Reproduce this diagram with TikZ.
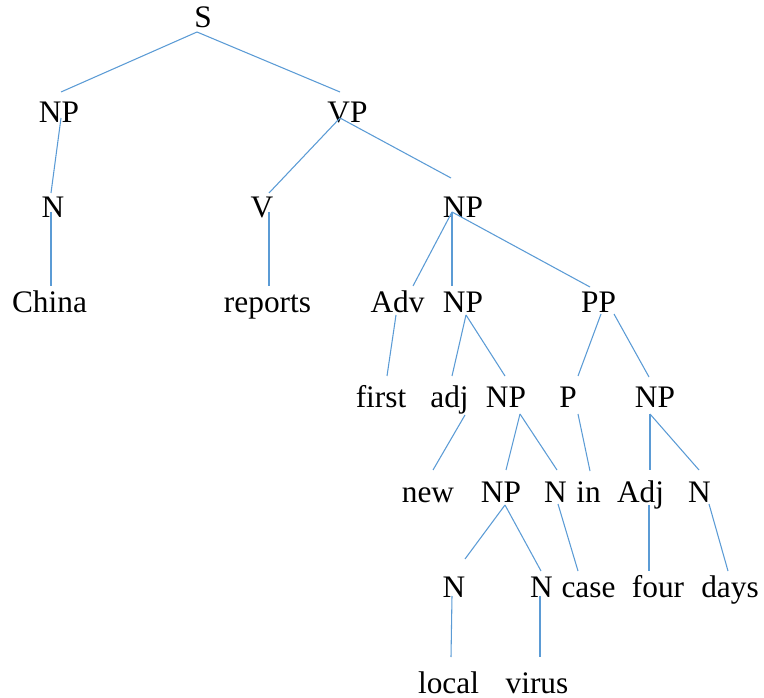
\documentclass[tikz,border=0pt]{standalone}
\usepackage{fontspec}
\setmainfont{Liberation Serif}
\definecolor{branch}{HTML}{5B9BD5}
\begin{document}
\begin{tikzpicture}[x=0.75pt,y=-0.75pt,
  lbl/.style={anchor=base,inner sep=0pt,font=\fontsize{23.5pt}{28pt}\selectfont},
  branchline/.style={draw=branch,line width=0.8pt}]
\useasboundingbox (0,0) rectangle (764,698);

% labels: centre x, baseline y
\node[lbl] (S) at (203,28) {S};
\node[lbl] (NPa) at (59,123) {NP};
\node[lbl] (VP) at (347.5,123) {VP};
\node[lbl] (Na) at (53,218) {N};
\node[lbl] (V) at (262,218) {V};
\node[lbl] (NPb) at (463,218) {NP};
\node[lbl] (China) at (49.5,313) {China};
\node[lbl] (reports) at (267.5,313) {reports};
\node[lbl] (Adv) at (397.5,313) {Adv};
\node[lbl] (NPc) at (463,313) {NP};
\node[lbl] (PP) at (598.5,313) {PP};
\node[lbl] (first) at (381,408) {first};
\node[lbl] (adj) at (449.5,408) {adj};
\node[lbl] (NPd) at (506,408) {NP};
\node[lbl] (P) at (568,408) {P};
\node[lbl] (NPe) at (655,408) {NP};
\node[lbl] (new) at (428,502) {new};
\node[lbl] (NPf) at (501,502) {NP};
\node[lbl] (Nb) at (555.5,502) {N};
\node[lbl] (in) at (588.5,502) {in};
\node[lbl] (Adj) at (640.5,502) {Adj};
\node[lbl] (Nc) at (699.5,502) {N};
\node[lbl] (Nd) at (454,597) {N};
\node[lbl] (Ne) at (541.5,597) {N};
\node[lbl] (case) at (588.5,597) {case};
\node[lbl] (four) at (658,597) {four};
\node[lbl] (days) at (730,597) {days};
\node[lbl] (local) at (448.5,693) {local};
\node[lbl] (virus) at (537,693) {virus};

% branch ends below parents
\coordinate (S-b) at (197,32);
\coordinate (NPa-b) at (61,118);
\coordinate (VP-b) at (340,118);
\coordinate (Na-b) at (51,212);
\coordinate (V-b) at (269,212);
\coordinate (NPb-b) at (452,212);
\coordinate (Adv-b) at (396,315);
\coordinate (NPc-b) at (466,315);
\coordinate (PP-bl) at (601,314);
\coordinate (PP-br) at (614,314);
\coordinate (adj-b) at (465,415);
\coordinate (NPd-b) at (520,414);
\coordinate (P-b) at (578,414);
\coordinate (NPe-b) at (650,414);
\coordinate (NPf-b) at (505,505);
\coordinate (Nb-b) at (558,504);
\coordinate (Adj-b) at (649,505);
\coordinate (Nc-b) at (709,504);
\coordinate (Nd-b) at (452,596);
\coordinate (Ne-b) at (540,596);

% branch ends above children
\coordinate (NPa-t) at (61,92);
\coordinate (VP-t) at (340,92);
\coordinate (Na-t) at (51,193);
\coordinate (V-t) at (269,193);
\coordinate (NPb-t) at (451,178);
\coordinate (China-t) at (51,286);
\coordinate (reports-t) at (269,286);
\coordinate (Adv-t) at (413,286);
\coordinate (NPc-t) at (452,286);
\coordinate (PP-t) at (590,287);
\coordinate (first-t) at (387,376);
\coordinate (adj-t) at (452,376);
\coordinate (NPd-t) at (505,376);
\coordinate (P-t) at (578,376);
\coordinate (NPe-t) at (649,377);
\coordinate (new-t) at (433,470);
\coordinate (NPf-t) at (506,470);
\coordinate (Nb-t) at (557,470);
\coordinate (in-t) at (590,471);
\coordinate (Adj-t) at (650,470);
\coordinate (Nc-t) at (699,470);
\coordinate (Nd-t) at (465,559);
\coordinate (Ne-t) at (541,571);
\coordinate (case-t) at (578,571);
\coordinate (four-t) at (649,571);
\coordinate (days-t) at (728,571);
\coordinate (local-t) at (451,657);
\coordinate (virus-t) at (540,657);

% branches
\draw[branchline] (S-b) -- (NPa-t);
\draw[branchline] (S-b) -- (VP-t);
\draw[branchline] (NPa-b) -- (Na-t);
\draw[branchline] (Na-b) -- (China-t);
\draw[branchline] (VP-b) -- (V-t);
\draw[branchline] (VP-b) -- (NPb-t);
\draw[branchline] (V-b) -- (reports-t);
\draw[branchline] (NPb-b) -- (Adv-t);
\draw[branchline] (NPb-b) -- (NPc-t);
\draw[branchline] (NPb-b) -- (PP-t);
\draw[branchline] (Adv-b) -- (first-t);
\draw[branchline] (NPc-b) -- (adj-t);
\draw[branchline] (NPc-b) -- (NPd-t);
\draw[branchline] (PP-bl) -- (P-t);
\draw[branchline] (PP-br) -- (NPe-t);
\draw[branchline] (adj-b) -- (new-t);
\draw[branchline] (NPd-b) -- (NPf-t);
\draw[branchline] (NPd-b) -- (Nb-t);
\draw[branchline] (P-b) -- (in-t);
\draw[branchline] (NPe-b) -- (Adj-t);
\draw[branchline] (NPe-b) -- (Nc-t);
\draw[branchline] (NPf-b) -- (Nd-t);
\draw[branchline] (NPf-b) -- (Ne-t);
\draw[branchline] (Nb-b) -- (case-t);
\draw[branchline] (Adj-b) -- (four-t);
\draw[branchline] (Nc-b) -- (days-t);
\draw[branchline] (Nd-b) -- (local-t);
\draw[branchline] (Ne-b) -- (virus-t);
\end{tikzpicture}
\end{document}
